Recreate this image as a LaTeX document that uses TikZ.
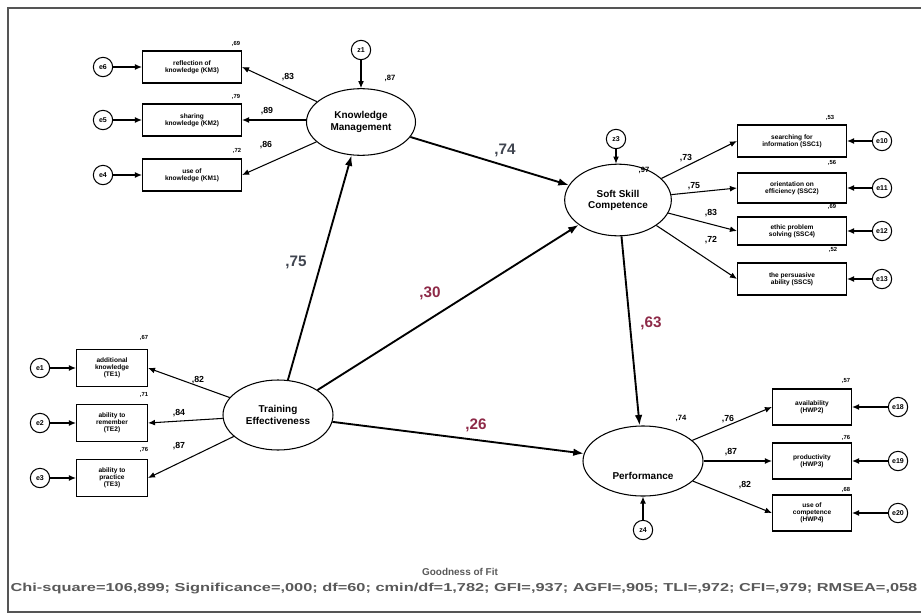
\documentclass[tikz,border=0pt]{standalone}
\usepackage{fontspec}
\setmainfont{Liberation Sans}
\usetikzlibrary{arrows.meta,shapes.geometric}
\definecolor{pathred}{HTML}{8E2A48}
\definecolor{pathgray}{HTML}{404550}
\definecolor{framegray}{HTML}{555555}
\begin{document}
\begin{tikzpicture}[x=0.03cm,y=-0.03cm,
  lat/.style={ellipse, draw, line width=0.9pt, align=center, inner sep=0pt,
    font=\fontsize{8.5}{9.5}\selectfont\bfseries},
  ind/.style={draw, line width=0.9pt, align=center, inner sep=0pt,
    font=\fontsize{5.6}{6.2}\selectfont\bfseries},
  err/.style={circle, draw, line width=0.9pt, minimum size=0.58cm, inner sep=0pt,
    font=\fontsize{6}{6.5}\selectfont\bfseries},
  meas/.style={-{Latex[length=6pt,width=5pt]}, line width=0.9pt},
  struct/.style={-{Latex[length=9pt,width=6.5pt]}, line width=1.6pt},
  lab/.style={font=\fontsize{7.5}{8}\selectfont\bfseries, inner sep=0pt},
  rsq/.style={font=\fontsize{5}{6}\selectfont\bfseries, inner sep=0pt},
  big/.style={font=\fontsize{13}{14}\selectfont\bfseries, inner sep=0pt}]
\useasboundingbox (0,0) rectangle (921,615);
\fill[white] (0,0) rectangle (921,615);
\draw[framegray, line width=1.6pt] (8,8) rectangle (935,612);

% latent variables
\node[lat, minimum width=3.27cm, minimum height=2.0cm] (KM) at (361,122) {Knowledge\\Management};
\node[lat, minimum width=3.2cm, minimum height=2.15cm] (SSC) at (618,200) {Soft Skill\\Competence};
\node[lat, minimum width=3.3cm, minimum height=2.1cm] (TE) at (278,415) {Training\\Effectiveness};
\node[lat, minimum width=3.6cm, minimum height=2.1cm] (PF) at (643,461) {};
\node[font=\fontsize{8.5}{9.5}\selectfont\bfseries] (PFt) at (643,476) {Performance};

% disturbances
\node[err] (z1) at (361,50) {z1};
\node[err] (z3) at (616,139) {z3};
\node[err] (z4) at (643,530) {z4};
\draw[meas] (z1) -- (KM);
\draw[meas] (z3) -- (SSC.north -| z3);
\draw[meas] (z4) -- (PF);
\node[rsq, font=\fontsize{6.5}{7}\selectfont\bfseries] (r87) at (390,78) {,87};
\node[rsq, font=\fontsize{6.5}{7}\selectfont\bfseries] (r97) at (644,170) {,97};
\node[rsq, font=\fontsize{6.5}{7}\selectfont\bfseries] (r74) at (681,418) {,74};

% KM indicators
\node[ind, minimum width=2.97cm, minimum height=0.96cm] (km3) at (192,67) {reflection of\\knowledge (KM3)};
\node[ind, minimum width=2.97cm, minimum height=0.96cm] (km2) at (192,120) {sharing\\knowledge (KM2)};
\node[ind, minimum width=2.97cm, minimum height=0.96cm] (km1) at (192,175) {use of\\knowledge (KM1)};
\node[err] (e6) at (103,67) {e6};
\node[err] (e5) at (103,120) {e5};
\node[err] (e4) at (103,175) {e4};
\draw[meas] (e6) -- (km3);
\draw[meas] (e5) -- (km2);
\draw[meas] (e4) -- (km1);
\draw[meas] (KM) -- (km3.east);
\draw[meas] (KM.west |- km2) -- (km2.east);
\draw[meas] (KM) -- (km1.east);
\node[rsq] (rk3) at (236,44) {,69};
\node[rsq] (rk2) at (236,97) {,79};
\node[rsq] (rk1) at (237,151) {,72};
\node[lab] (lk3) at (288,77) {,83};
\node[lab] (lk2) at (267,111) {,89};
\node[lab] (lk1) at (266,145) {,86};

% SSC indicators
\node[ind, minimum width=3.27cm, minimum height=0.96cm] (s1) at (792,141) {searching for\\information (SSC1)};
\node[ind, minimum width=3.27cm, minimum height=0.9cm] (s2) at (792,188) {orientation on\\efficiency (SSC2)};
\node[ind, minimum width=3.27cm, minimum height=0.84cm] (s4) at (792,231) {ethic problem\\solving (SSC4)};
\node[ind, minimum width=3.27cm, minimum height=0.96cm] (s5) at (792,279) {the persuasive\\ability (SSC5)};
\node[err] (e10) at (882,141) {e10};
\node[err] (e11) at (882,188) {e11};
\node[err] (e12) at (882,231) {e12};
\node[err] (e13) at (882,279) {e13};
\draw[meas] (e10) -- (s1);
\draw[meas] (e11) -- (s2);
\draw[meas] (e12) -- (s4);
\draw[meas] (e13) -- (s5);
\draw[meas] (SSC) -- (s1.west);
\draw[meas] (SSC) -- (s2.west);
\draw[meas] (SSC) -- (s4.west);
\draw[meas] (SSC) -- (s5.west);
\node[rsq] (rs1) at (830,118) {,53};
\node[rsq] (rs2) at (832,163) {,56};
\node[rsq] (rs4) at (832,207) {,69};
\node[rsq] (rs5) at (833,250) {,52};
\node[lab] (ls1) at (686,158) {,73};
\node[lab] (ls2) at (694,186) {,75};
\node[lab] (ls4) at (711,213) {,83};
\node[lab] (ls5) at (711,240) {,72};

% TE indicators
\node[ind, minimum width=2.13cm, minimum height=1.1cm] (t1) at (112,368) {additional\\knowledge\\(TE1)};
\node[ind, minimum width=2.13cm, minimum height=1.1cm] (t2) at (112,423) {ability to\\remember\\(TE2)};
\node[ind, minimum width=2.13cm, minimum height=1.1cm] (t3) at (112,478) {ability to\\practice\\(TE3)};
\node[err] (e1) at (40,368) {e1};
\node[err] (e2) at (40,423) {e2};
\node[err] (e3) at (40,478) {e3};
\draw[meas] (e1) -- (t1);
\draw[meas] (e2) -- (t2);
\draw[meas] (e3) -- (t3);
\draw[meas] (TE) -- (t1.east);
\draw[meas] (TE) -- (t2.east);
\draw[meas] (TE) -- (t3.east);
\node[rsq] (rt1) at (144,338) {,67};
\node[rsq] (rt2) at (144,395) {,71};
\node[rsq] (rt3) at (144,450) {,76};
\node[lab] (lt1) at (198,380) {,82};
\node[lab] (lt2) at (179,413) {,84};
\node[lab] (lt3) at (179,446) {,87};

% Performance indicators
\node[ind, minimum width=2.37cm, minimum height=1.08cm] (p2) at (812,407) {availability\\(HWP2)};
\node[ind, minimum width=2.37cm, minimum height=1.08cm] (p3) at (812,461) {productivity\\(HWP3)};
\node[ind, minimum width=2.37cm, minimum height=1.08cm] (p4) at (812,513) {use of\\competence\\(HWP4)};
\node[err] (e18) at (898,407) {e18};
\node[err] (e19) at (898,461) {e19};
\node[err] (e20) at (898,513) {e20};
\draw[meas] (e18) -- (p2);
\draw[meas] (e19) -- (p3);
\draw[meas] (e20) -- (p4);
\draw[meas] (PF) -- (p2.west);
\draw[meas] (PF.east |- p3) -- (p3.west);
\draw[meas] (PF) -- (p4.west);
\node[rsq] (rp2) at (846,381) {,57};
\node[rsq] (rp3) at (846,438) {,76};
\node[rsq] (rp4) at (846,490) {,68};
\node[lab] (lp2) at (728,419) {,76};
\node[lab] (lp3) at (731,452) {,87};
\node[lab] (lp4) at (745,485) {,82};

% structural paths
\draw[struct] (TE) -- (KM);
\draw[struct] (KM) -- (SSC);
\draw[struct] (TE) -- (SSC);
\draw[struct] (SSC) -- (PF);
\draw[struct] (TE) -- (PF);
\node[big, pathgray] (b75) at (296,262) {,75};
\node[big, pathgray] (b74) at (505,150) {,74};
\node[big, pathred] (b30) at (430,293) {,30};
\node[big, pathred] (b63) at (651,323) {,63};
\node[big, pathred] (b26) at (476,425) {,26};

% goodness of fit
\node[font=\fontsize{8.5}{9}\selectfont\bfseries, text=black!65] (gof) at (460,572) {Goodness of Fit};
\node[inner sep=0pt, text=black!65] (fit) at (464,589) {\resizebox{27.2cm}{0.25cm}{\bfseries Chi-square=106,899; Significance=,000; df=60; cmin/df=1,782; GFI=,937; AGFI=,905; TLI=,972; CFI=,979; RMSEA=,058}};
\end{tikzpicture}
\end{document}
